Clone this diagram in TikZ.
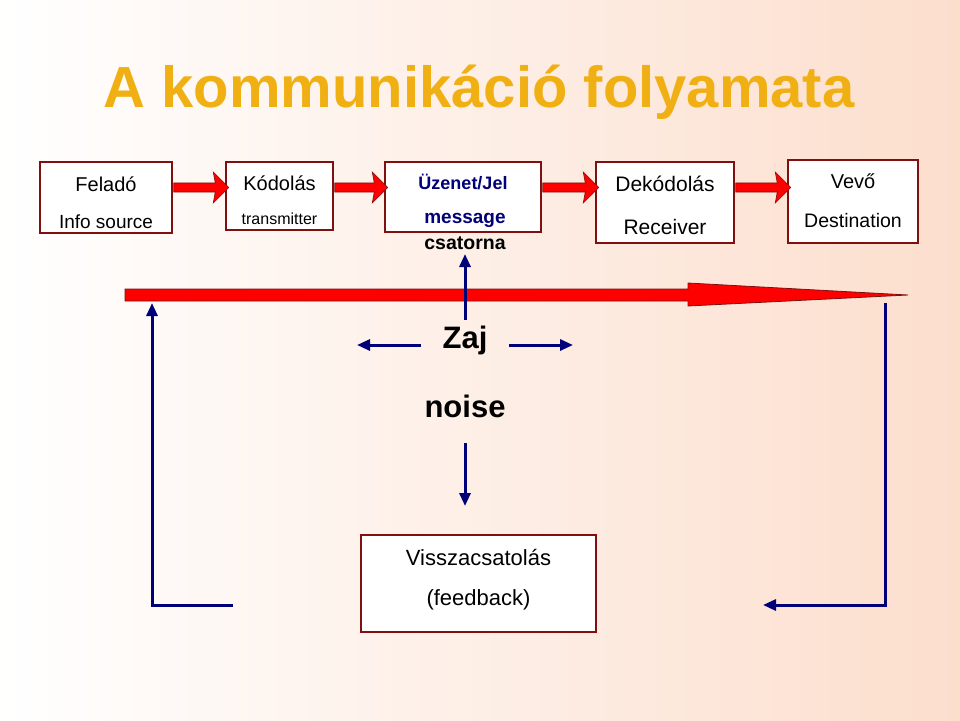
\documentclass[tikz,border=0pt]{standalone}
\usepackage{fontspec}
\setmainfont{Liberation Sans}
\usetikzlibrary{arrows.meta,shapes.arrows}
\definecolor{gold}{RGB}{240,176,20}
\definecolor{bx}{RGB}{128,16,16}
\definecolor{nv}{RGB}{0,0,120}
\definecolor{peach}{RGB}{252,222,205}
\tikzset{
 box/.style={draw=bx,line width=2.4pt,fill=white,anchor=north west},
 blk/.style={single arrow,draw=bx,fill=red,line width=0.6pt,minimum height=#1,single arrow head extend=8pt,minimum width=31pt,inner sep=3pt,single arrow head indent=2pt},
 nvline/.style={draw=nv,line width=3pt},
 nvarr/.style={nvline,-{Triangle[length=13pt,width=11pt]}},
}
\begin{document}
\begin{tikzpicture}[x=1pt,y=-1pt]
\shade[left color=white,right color=peach] (0,0) rectangle (960,720);
\useasboundingbox (0,0) rectangle (960,720);
\node[text=gold,font=\bfseries\fontsize{58}{66}\selectfont] (title) at (479,92) {A kommunikáció folyamata};
% boxes
\draw[box] (40,162) rectangle (172,233); \node (b1) at (106,197.5) {};
\draw[box] (226,162) rectangle (333,230); \node (b2) at (279.5,196) {};
\draw[box] (385,162) rectangle (541,232); \node (b3) at (463,197) {};
\draw[box] (596,162) rectangle (734,243); \node (b4) at (665,202.5) {};
\draw[box] (788,160) rectangle (918,243); \node (b5) at (853,201.5) {};
\node[font=\fontsize{20}{24}\selectfont] (t1a) at (106,184) {Feladó};
\node[font=\fontsize{19}{22}\selectfont] (t1b) at (106,222) {Info source};
\node[font=\fontsize{20}{24}\selectfont] (t2a) at (279.5,183) {Kódolás};
\node[font=\fontsize{16}{19}\selectfont] (t2b) at (279.5,219) {transmitter};
\node[font=\bfseries\fontsize{18}{22}\selectfont,text=nv] (t3a) at (463,182) {Üzenet/Jel};
\node[font=\bfseries\fontsize{19}{23}\selectfont,text=nv] (t3b) at (465,220) {message};
\node[font=\bfseries\fontsize{19.5}{23}\selectfont] (t3c) at (465,243) {csatorna};
\node[font=\fontsize{21}{25}\selectfont] (t4a) at (665,184) {Dekódolás};
\node[font=\fontsize{21}{25}\selectfont] (t4b) at (665,227) {Receiver};
\node[font=\fontsize{20}{24}\selectfont] (t5a) at (853,181) {Vevő};
\node[font=\fontsize{19.5}{23}\selectfont] (t5b) at (853,221) {Destination};
% block arrows
\node[blk=55pt] (a1) at (199,187.5) {};
\node[blk=53pt] (a2) at (359,187.5) {};
\node[blk=56pt] (a3) at (568.5,187.5) {};
\node[blk=55pt] (a4) at (761,187.5) {};
% big arrow
\draw[bx,fill=red,line width=0.8pt] (125,289) -- (688,289) -- (688,283) -- (908,295) -- (688,306) -- (688,301) -- (125,301) -- cycle;
% noise
\node[font=\bfseries\fontsize{31}{36}\selectfont] (zaj) at (465,340) {Zaj};
\node[font=\bfseries\fontsize{31}{36}\selectfont] (noise) at (465,406) {noise};
\coordinate (up0) at (465,320);
\coordinate (up1) at (465,254);
\draw[nvarr] (up0) -- (up1);
\coordinate (l0) at (421,345); \coordinate (l1) at (357,345);
\coordinate (r0) at (509,345); \coordinate (r1) at (573,345);
\draw[nvarr] (l0) -- (l1);
\draw[nvarr] (r0) -- (r1);
\coordinate (d0) at (465,443); \coordinate (d1) at (465,506);
\draw[nvarr] (d0) -- (d1);
% feedback
\draw[box] (361,535) rectangle (596,632);
\node[font=\fontsize{22}{26}\selectfont] (fb1) at (478.5,557) {Visszacsatolás};
\node[font=\fontsize{22}{26}\selectfont] (fb2) at (478.5,600) {(feedback)};
\coordinate (fl0) at (233,605); \coordinate (fl1) at (152,605); \coordinate (fl2) at (152,303);
\draw[nvarr] (fl0) -- (fl1) -- (fl2);
\coordinate (fr0) at (885,303); \coordinate (fr1) at (885,605); \coordinate (fr2) at (763,605);
\draw[nvarr] (fr0) -- (fr1) -- (fr2);
\end{tikzpicture}
\end{document}
